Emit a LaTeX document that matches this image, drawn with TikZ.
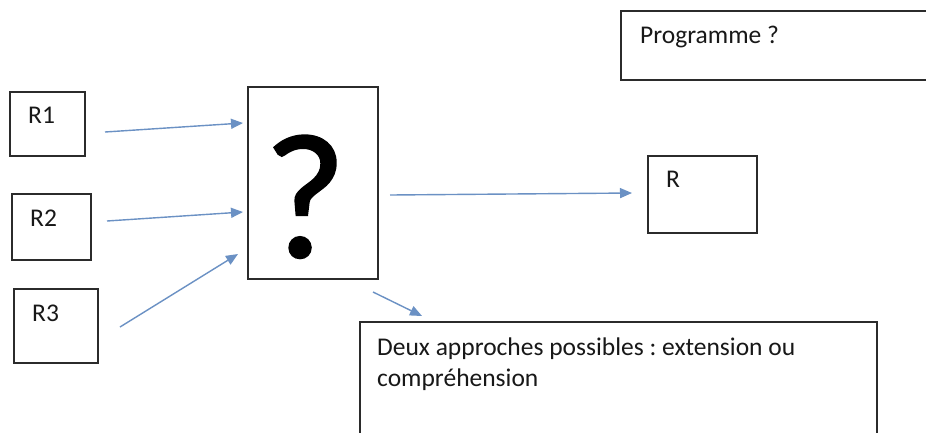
\documentclass[tikz,border=0pt]{standalone}
\usepackage{fontspec}
\setmainfont{Carlito}
\newfontface\qface[FakeBold=1.2]{Carlito}
\usetikzlibrary{arrows.meta,calc}
\definecolor{arrowblue}{HTML}{6B91C4}
\definecolor{boxline}{HTML}{2B2B2B}
\definecolor{txt}{HTML}{181818}
\frenchspacing
\begin{document}
\begin{tikzpicture}[x=1pt,y=-1pt,
  box/.style={draw=boxline,line width=1.6pt,fill=white,inner sep=0pt,outer sep=0pt},
  lbl/.style={anchor=base west,inner sep=0pt,text=txt,font=\fontsize{25.5}{30}\selectfont},
  arr/.style={draw=arrowblue,line width=1.4pt,-{Triangle[length=12pt,width=10pt]}}]
\useasboundingbox (0,0) rectangle (926,432);
\clip (0,0) rectangle (926,432);
\fill[white] (0,0) rectangle (926,432);
% boxes
\node[box,minimum width=75,minimum height=64] (r1) at (47.5,124) {};
\node[box,minimum width=79,minimum height=66] (r2) at (51.5,227) {};
\node[box,minimum width=84,minimum height=74] (r3) at (56,326) {};
\node[box,minimum width=130,minimum height=192] (q) at (313,183) {};
\node[box,minimum width=109,minimum height=77] (r) at (702.5,194.5) {};
\node[box,minimum width=339,minimum height=69] (prog) at (790.5,45.5) {};
\node[box,minimum width=517,minimum height=148] (deux) at (618.5,396) {};
% texts
\node[lbl] (t1) at (28,123) {R1};
\node[lbl] (t2) at (30,226) {R2};
\node[lbl] (t3) at (32,321) {R3};
\node[lbl] (tr) at (666,187) {R};
\node[lbl] (tp) at (640,43) {Programme ?};
\node[lbl] (td1) at (377,355) {Deux approches possibles : extension ou};
\node[lbl] (td2) at (377,386) {compréhension};
\node[anchor=base,inner sep=0pt,font=\qface\fontsize{178}{180}\selectfont] (qm) at (305,257) {?};
% arrows
\draw[arr] ($(r1.east)+(20,8)$) -- ($(q.west)+(-5,-60)$);
\draw[arr] ($(r2.east)+(16,-6)$) -- ($(q.west)+(-5,29)$);
\draw[arr] ($(r3.east)+(22,1)$) -- ($(q.west)+(-10,71)$);
\draw[arr] ($(q.east)+(12,12)$) -- ($(r.west)+(-16,-1.5)$);
\draw[arr] ($(q.south east)+(-5,13)$) -- ($(deux.north west)+(62,-6)$);
\end{tikzpicture}
\end{document}
